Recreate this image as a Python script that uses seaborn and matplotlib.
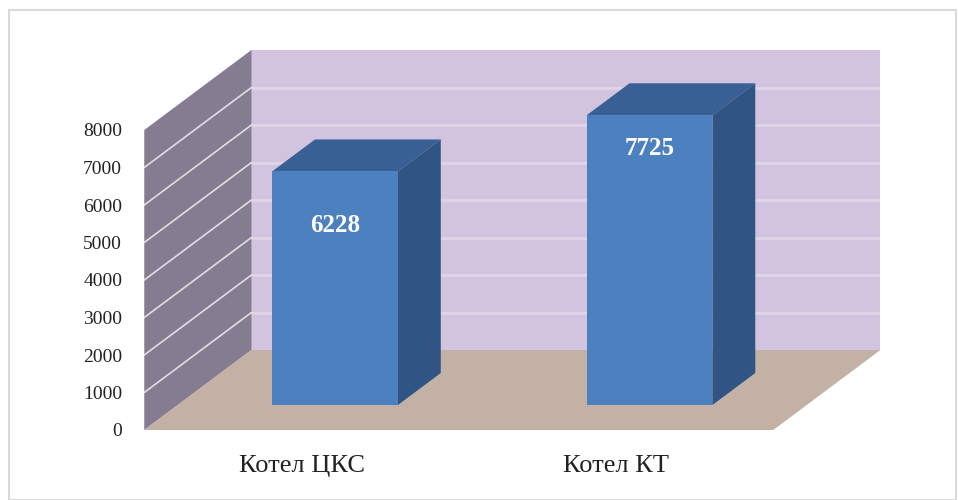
import matplotlib
matplotlib.use("Agg")
import matplotlib.pyplot as plt
import seaborn as sns
from matplotlib.patches import Polygon, Rectangle

# Data
categories = ["Котел ЦКС", "Котел КТ"]
values = [6228, 7725]
y_ticks = [0, 1000, 2000, 3000, 4000, 5000, 6000, 7000, 8000]

# Colours
C_SIDE_WALL = "#857c91"
C_BACK_WALL = "#d2c4df"
C_FLOOR = "#c2b1a4"
C_BAR_FRONT = "#4d80be"
C_BAR_TOP = "#386094"
C_BAR_SIDE = "#305484"

sns.set_theme(style="white")
plt.rcParams["font.family"] = ["Liberation Serif", "DejaVu Serif"]

W, H = 958, 500
fig = plt.figure(figsize=(W / 100, H / 100), dpi=100)
ax = fig.add_axes([0, 0, 1, 1])

# Oblique projection set-up (pixel scale of the axes)
PX_CAT = 314.5      # pixels per category step
PX_VAL = 0.0375     # pixels per value unit
X0 = 335            # pixel column of category 0 on the bar plane
Y0 = 95             # pixel row (from bottom) of value 0 on the bar plane
SLANT = 1.34        # horizontal shift per vertical pixel of depth
Z_FRONT, Z_BACK = -25, 55
BAR_DEPTH = 32
BAR_WIDTH = 0.4
V_MAX = y_ticks[-1]
X_LEFT, X_RIGHT = -0.5, len(categories) - 0.5


def proj(x, v, z):
    return (x + SLANT * z / PX_CAT, v + z / PX_VAL)


def face(points, color, z):
    ax.add_patch(Polygon([proj(*p) for p in points], closed=True,
                         facecolor=color, edgecolor="none", zorder=z))


# Walls and floor
face([(X_LEFT, 0, Z_BACK), (X_RIGHT, 0, Z_BACK),
      (X_RIGHT, V_MAX, Z_BACK), (X_LEFT, V_MAX, Z_BACK)], C_BACK_WALL, 0)
face([(X_LEFT, 0, Z_FRONT), (X_LEFT, 0, Z_BACK),
      (X_LEFT, V_MAX, Z_BACK), (X_LEFT, V_MAX, Z_FRONT)], C_SIDE_WALL, 0.5)
face([(X_LEFT, 0, Z_FRONT), (X_RIGHT, 0, Z_FRONT),
      (X_RIGHT, 0, Z_BACK), (X_LEFT, 0, Z_BACK)], C_FLOOR, 1)

# Gridlines on the side and back walls
for t in y_ticks[1:-1]:
    a = proj(X_LEFT, t, Z_FRONT)
    b = proj(X_LEFT, t, Z_BACK)
    c = proj(X_RIGHT, t, Z_BACK)
    ax.plot([a[0], b[0]], [a[1], b[1]], color="white", alpha=0.75, lw=1.2, zorder=0.8)
    ax.plot([b[0], c[0]], [b[1], c[1]], color="white", alpha=0.3, lw=2.0, zorder=0.2)

# Front faces of the bars
sns.barplot(x=categories, y=values, width=BAR_WIDTH, color=C_BAR_FRONT,
            saturation=1, edgecolor="none", ax=ax, zorder=4)

# Top and side faces derived from each drawn bar
for p in ax.patches[3:]:
    x0 = p.get_x()
    x1 = x0 + p.get_width()
    v = p.get_height()
    face([(x0, v, 0), (x1, v, 0), (x1, v, BAR_DEPTH), (x0, v, BAR_DEPTH)], C_BAR_TOP, 3)
    face([(x1, 0, 0), (x1, v, 0), (x1, v, BAR_DEPTH), (x1, 0, BAR_DEPTH)], C_BAR_SIDE, 3)

# Value labels inside the bars
label_heights = [4800, 6850]
for i, (val, lh) in enumerate(zip(values, label_heights)):
    ax.text(i, lh, f"{val}", ha="center", va="center", color="white",
            fontsize=18, fontweight="bold", zorder=6)

# Value axis labels along the front edge of the side wall
for t in y_ticks:
    px, py = proj(X_LEFT, t, Z_FRONT)
    ax.text(px - 22 / PX_CAT, py - 2 / PX_VAL, f"{t}", ha="right", va="center",
            fontsize=14, color="#222222")

# Category labels under the floor
for i, cat in enumerate(categories):
    px, py = proj(i, 0, Z_FRONT)
    ax.text(px, py - 36 / PX_VAL, cat, ha="center", va="center",
            fontsize=19, color="#222222")

ax.set_xlim(-X0 / PX_CAT, (W - X0) / PX_CAT)
ax.set_ylim(-Y0 / PX_VAL, (H - Y0) / PX_VAL)
ax.axis("off")

# Chart frame
fig.patches.append(Rectangle((9 / W, 0), (956 - 9) / W, (H - 10) / H,
                             transform=fig.transFigure, fill=False,
                             edgecolor="#d9d9d9", lw=1.5, zorder=10))

fig.savefig("out.png", dpi=100)
